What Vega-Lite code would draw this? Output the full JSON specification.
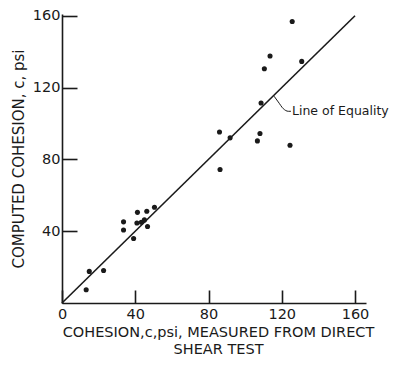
{
  "$schema": "https://vega.github.io/schema/vega-lite/v6.json",
  "autosize": "none",
  "width": 304,
  "height": 289,
  "padding": {"left": 62, "top": 14, "right": 34, "bottom": 65},
  "background": "white",
  "config": {"view": {"stroke": null}, "font": "DejaVu Sans"},
  "datasets": {
    "pts": [
      {"measured": 13.2, "computed": 7.4},
      {"measured": 14.9, "computed": 17.6},
      {"measured": 22.7, "computed": 18.1},
      {"measured": 33.6, "computed": 45.2},
      {"measured": 33.6, "computed": 40.7},
      {"measured": 39.1, "computed": 35.9},
      {"measured": 41.2, "computed": 50.5},
      {"measured": 40.9, "computed": 44.6},
      {"measured": 43.3, "computed": 45.0},
      {"measured": 45.0, "computed": 46.3},
      {"measured": 46.7, "computed": 42.6},
      {"measured": 46.3, "computed": 51.1},
      {"measured": 50.5, "computed": 53.3},
      {"measured": 86.0, "computed": 95.3},
      {"measured": 86.3, "computed": 74.4},
      {"measured": 91.8, "computed": 92.0},
      {"measured": 108.7, "computed": 111.4},
      {"measured": 108.1, "computed": 94.4},
      {"measured": 106.7, "computed": 90.3},
      {"measured": 124.5, "computed": 87.9},
      {"measured": 110.5, "computed": 130.5},
      {"measured": 113.6, "computed": 137.6},
      {"measured": 125.7, "computed": 156.8},
      {"measured": 130.9, "computed": 134.6}
    ],
    "equality": [
      {"measured": 0, "computed": 0},
      {"measured": 160, "computed": 160}
    ],
    "leader": [
      {"i": 1, "measured": 115.8, "computed": 115.2},
      {"i": 2, "measured": 118.1, "computed": 112.0},
      {"i": 3, "measured": 120.8, "computed": 108.3},
      {"i": 4, "measured": 123.6, "computed": 106.8},
      {"i": 5, "measured": 125.0, "computed": 106.8}
    ],
    "label": [
      {"measured": 125.6, "computed": 106.8, "text": "Line of Equality"}
    ]
  },
  "layer": [
    {
      "data": {"name": "equality"},
      "mark": {"type": "line", "color": "#1a1a1a", "strokeWidth": 1.6},
      "encoding": {
        "x": {
          "field": "measured", "type": "quantitative",
          "scale": {"domain": [0, 166], "nice": false, "zero": false},
          "axis": {
            "values": [0, 40, 80, 120, 160],
            "grid": false, "labelFlush": false,
            "domainColor": "#1a1a1a", "domainWidth": 1.6,
            "tickColor": "#1a1a1a", "tickWidth": 1.6, "tickSize": -13,
            "labelFontSize": 14.5, "labelColor": "#1a1a1a", "labelPadding": 17,
            "labelFont": "DejaVu Sans",
            "title": ["COHESION,c,psi, MEASURED FROM DIRECT", "SHEAR TEST"],
            "titleFontSize": 14.5, "titleFontWeight": "normal", "titleColor": "#1a1a1a",
            "titleFont": "DejaVu Sans", "titlePadding": 5, "titleLineHeight": 17,
            "titleX": 156
          }
        },
        "y": {
          "field": "computed", "type": "quantitative",
          "scale": {"domain": [0, 161], "nice": false, "zero": false},
          "axis": {
            "values": [40, 80, 120, 160],
            "grid": false,
            "domainColor": "#1a1a1a", "domainWidth": 1.6,
            "tickColor": "#1a1a1a", "tickWidth": 1.6, "tickSize": -15,
            "labelFontSize": 14.5, "labelColor": "#1a1a1a", "labelPadding": 17,
            "labelFont": "DejaVu Sans",
            "title": "COMPUTED COHESION, c, psi",
            "titleFontSize": 15, "titleFontWeight": "normal", "titleColor": "#1a1a1a",
            "titleFont": "DejaVu Sans", "titlePadding": 6
          }
        }
      }
    },
    {
      "data": {"name": "pts"},
      "mark": {"type": "point", "filled": true, "color": "#1a1a1a", "size": 26, "opacity": 1},
      "encoding": {
        "x": {"field": "measured", "type": "quantitative"},
        "y": {"field": "computed", "type": "quantitative"}
      }
    },
    {
      "data": {"name": "leader"},
      "mark": {"type": "line", "color": "#1a1a1a", "strokeWidth": 1, "interpolate": "monotone"},
      "encoding": {
        "x": {"field": "measured", "type": "quantitative"},
        "y": {"field": "computed", "type": "quantitative"},
        "order": {"field": "i"}
      }
    },
    {
      "data": {"name": "label"},
      "mark": {"type": "text", "align": "left", "baseline": "middle", "fontSize": 12.5, "color": "#1a1a1a", "font": "DejaVu Sans"},
      "encoding": {
        "x": {"field": "measured", "type": "quantitative"},
        "y": {"field": "computed", "type": "quantitative"},
        "text": {"field": "text"}
      }
    }
  ]
}
